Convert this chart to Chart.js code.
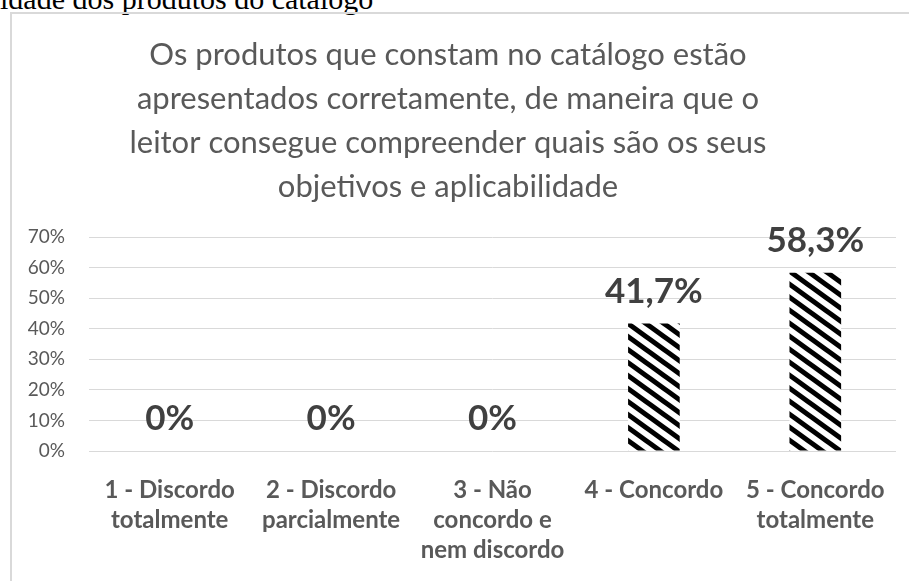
<!DOCTYPE html>
<html lang="pt">
<head>
<meta charset="utf-8">
<script src="https://cdn.jsdelivr.net/npm/chart.js@4/dist/chart.umd.min.js"></script>
<style>
  html, body { margin: 0; padding: 0; background: #fff; overflow: hidden; }
  #page { position: relative; width: 909px; height: 581px; overflow: hidden; }
  #caption {
    position: absolute; left: 0; top: -16px;
    font: 30px/30px "Liberation Serif", "Times New Roman", serif;
    color: #000; white-space: nowrap;
  }
  #frame {
    position: absolute; left: 10px; top: 12px; width: 920px; height: 600px;
    border-left: 2px solid #d9d9d9; border-top: 2px solid #d9d9d9;
  }
  #wrap { position: absolute; left: 0; top: 0; width: 909px; height: 581px; }
</style>
</head>
<body>
<div id="page">
  <div id="caption">idade dos produtos do catálogo</div>
  <div id="frame"></div>
  <div id="wrap"><canvas id="answers-chart"></canvas></div>
</div>
<script>
const titleLines = [
  'Os produtos que constam no catálogo estão',
  'apresentados corretamente, de maneira que o',
  'leitor consegue compreender quais são os seus',
  'objetivos e aplicabilidade'
];
const categories = [
  ['1 - Discordo', 'totalmente'],
  ['2 - Discordo', 'parcialmente'],
  ['3 - Não', 'concordo e', 'nem discordo'],
  '4 - Concordo',
  ['5 - Concordo', 'totalmente']
];
const percentages = [0, 0, 0, 41.7, 58.3];
const yTicks = [0, 10, 20, 30, 40, 50, 60, 70];

// black/white "wide downward diagonal" fill
function stripePattern() {
  const w = 18, h = 13;
  const tile = document.createElement('canvas');
  tile.width = w;
  tile.height = h;
  const t = tile.getContext('2d');
  t.fillStyle = '#fff';
  t.fillRect(0, 0, w, h);
  t.strokeStyle = '#000';
  t.lineWidth = 5;
  for (let k = -1; k <= 1; k++) {
    t.beginPath();
    t.moveTo(k * w - w, -h);
    t.lineTo(k * w + 2 * w, 2 * h);
    t.stroke();
  }
  return t.createPattern(tile, 'repeat');
}

function fmt(v) {
  return v === 0 ? '0%' : v.toFixed(1).replace('.', ',') + '%';
}

const valueLabels = {
  id: 'valueLabels',
  afterDatasetsDraw(chart) {
    const ctx = chart.ctx;
    const meta = chart.getDatasetMeta(0);
    ctx.save();
    ctx.font = 'bold 35px Lato';
    ctx.fillStyle = '#404040';
    ctx.textAlign = 'center';
    ctx.textBaseline = 'middle';
    meta.data.forEach(function (bar, i) {
      ctx.fillText(fmt(percentages[i]), bar.x, bar.y - 32);
    });
    ctx.restore();
  }
};

const ctx = document.getElementById('answers-chart');

new Chart(ctx, {
  type: 'bar',
  data: {
    labels: categories,
    datasets: [{
      data: percentages,
      backgroundColor: stripePattern(),
      borderWidth: 0,
      categoryPercentage: 1,
      barPercentage: 0.32
    }]
  },
  options: {
    responsive: true,
    maintainAspectRatio: false,
    animation: false,
    layout: { padding: { left: 0, right: 13, top: 0, bottom: 0 } },
    plugins: {
      legend: { display: false },
      tooltip: { enabled: false },
      title: {
        display: true,
        text: titleLines,
        color: '#595959',
        font: { family: 'Lato', size: 31, weight: 'normal', lineHeight: 1.42 },
        padding: { top: 33, bottom: 28 }
      }
    },
    scales: {
      x: {
        grid: { display: false },
        border: { display: false },
        ticks: {
          color: '#595959',
          font: { family: 'Lato', size: 24, weight: 'bold', lineHeight: 1.25 },
          padding: 16,
          maxRotation: 0,
          autoSkip: false
        },
        afterFit: function (scale) { scale.height = 130; }
      },
      y: {
        min: 0,
        max: 70,
        afterBuildTicks: function (scale) {
          scale.ticks = yTicks.map(function (v) { return { value: v }; });
        },
        grid: { color: '#d9d9d9', lineWidth: 1, drawTicks: false },
        border: { display: false },
        ticks: {
          color: '#595959',
          font: { family: 'Lato', size: 19 },
          padding: 24,
          callback: function (v) { return v + '%'; }
        },
        afterFit: function (scale) { scale.width = 89; }
      }
    }
  },
  plugins: [valueLabels]
});
</script>
</body>
</html>
